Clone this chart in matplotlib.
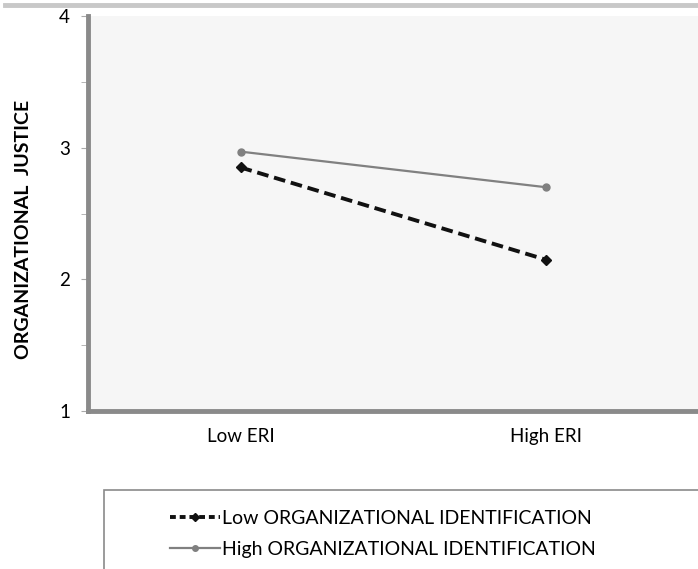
import matplotlib
matplotlib.use("Agg")
import matplotlib.pyplot as plt
from matplotlib.lines import Line2D
from matplotlib.patches import Rectangle

categories = ["Low ERI", "High ERI"]
low_id = [2.85, 2.15]
high_id = [2.97, 2.70]
series_labels = ["Low ORGANIZATIONAL IDENTIFICATION", "High ORGANIZATIONAL IDENTIFICATION"]
y_ticks = [1, 2, 3, 4]

plt.rcParams['font.family'] = ['Lato', 'DejaVu Sans']

fig = plt.figure(figsize=(6.98, 5.69), dpi=100)
ax = fig.add_axes([88/698, 1-411/569, 1-88/698, (411-16)/569])
ax.set_facecolor('#f6f6f6')

x = list(range(len(categories)))
l1, = ax.plot(x, low_id, color='#111111', lw=2.8, ls=(0, (3, 1.5)), marker='D', ms=5,
              label=series_labels[0])
l2, = ax.plot(x, high_id, color='#808080', lw=1.6, marker='o', ms=5, label=series_labels[1])

ax.set_xlim(-0.5, 1.5)
ax.set_ylim(1, 4)
ax.set_xticks(x)
ax.set_xticklabels(categories, fontsize=13.5)
ax.set_yticks(y_ticks)
ax.set_yticklabels([str(t) for t in y_ticks], fontsize=13.5)
ax.set_yticks([1.5, 2.5, 3.5], minor=True)
ax.tick_params(axis='y', which='both', length=5, color='#aaaaaa', pad=8)
ax.tick_params(axis='x', length=0, pad=12)
for s in ['top', 'right']:
    ax.spines[s].set_visible(False)
for s in ['left', 'bottom']:
    ax.spines[s].set_color('#8a8a8a')
    ax.spines[s].set_linewidth(3.5)
ax.set_ylabel("ORGANIZATIONAL  JUSTICE", fontsize=14, fontweight='bold')
ax.yaxis.set_label_coords(-0.092, 0.46)

# top gray rule
fig.add_artist(Line2D([5/698, 1], [1-5/569, 1-5/569], color='#c8c8c8', lw=3.5,
                      transform=fig.transFigure))

# legend box
fig.add_artist(Rectangle((104/698, -0.05), 1, 0.05 + (569-490)/569, transform=fig.transFigure,
                         facecolor='white', edgecolor='#8a8a8a', lw=1.2))
l1_leg = Line2D([], [], color='#111111', lw=2.8, ls=(0, (1.5, 1)), marker='D', ms=4)
l2_leg = Line2D([], [], color='#808080', lw=1.6, marker='o', ms=4)
fig.legend(handles=[l1_leg, l2_leg], labels=series_labels, loc='center',
           bbox_to_anchor=(383/698, 1-534/569),
           frameon=False, fontsize=14, handlelength=2.6, handletextpad=0.1,
           labelspacing=0.75)

fig.savefig("out.png", dpi=100)
